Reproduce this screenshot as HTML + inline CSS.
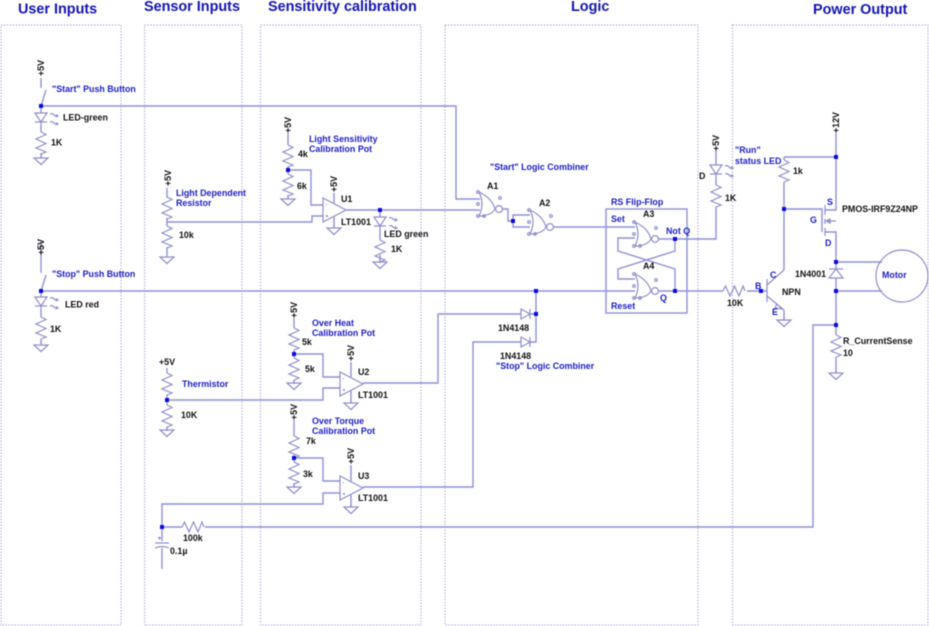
<!DOCTYPE html>
<html><head><meta charset="utf-8"><style>
html,body{margin:0;padding:0;background:#fff;width:929px;height:626px;overflow:hidden}
svg{display:block;filter:blur(.45px)}
text{font-family:"Liberation Sans",sans-serif;font-weight:bold;font-size:8.9px;fill:#111}
.b{fill:#1c1cc4}
.h{font-size:14.4px;fill:#1414b4}
.w{fill:none;stroke:#9090d8;stroke-width:1.4}
.c{fill:none;stroke:#8e8ecc;stroke-width:1.2}
.p{fill:none;stroke:#a0a0d8;stroke-width:1;stroke-dasharray:1.4 1.6}
.n{fill:#0808e0}
</style></head><body>
<svg width="929" height="626" viewBox="0 0 929 626" xmlns="http://www.w3.org/2000/svg">
<defs>
<path id="r" class="c" d="M0 0L5 2.500L-5 7L5 11.500L-5 16L5 20L0 22"/>
<path id="g" class="c" d="M0 -3V0M-7 0H7L0 6.500Z"/>
<g id="led" class="c"><path d="M-6 0H6L0 9ZM-6 9H6M0 9V12"/><path d="M9 1q2.500 -1 4 1t4 1M15 1.500l2 1.500l-2 1M9 9q2.500 -1 4 1t4 1M15 9.500l2 1.500l-2 1" /></g>
<g id="op" class="c"><path d="M0 0L23 12L0 24Z"/><path d="M3 6.500h1M3 18h2M4 17v2" /></g>
<g id="gate" class="c"><path d="M0 0Q6 12 0 24Q12 24 16 17Q13 6 0 0Z"/><circle cx="20" cy="17" r="3.400"/><circle cx="-1" cy="0" r="1.300"/><circle cx="-1" cy="12" r="1.300"/><circle cx="-1" cy="24" r="1.300"/><circle cx="5" cy="24" r="1.300"/><circle cx="21" cy="6" r="1.300"/></g>
<path id="dr" class="c" d="M0 -5V5L9 0ZM9 -5V5"/>
</defs>

<!-- panels -->
<rect class="p" x="1" y="25" width="120" height="600"/>
<rect class="p" x="144.500" y="25" width="97.500" height="600"/>
<rect class="p" x="260.500" y="25" width="160.500" height="600"/>
<rect class="p" x="445" y="25" width="253" height="600"/>
<rect class="p" x="732.500" y="25" width="195.500" height="600"/>

<!-- headers -->
<text class="h" x="18" y="13.500">User Inputs</text>
<text class="h" x="144" y="11">Sensor Inputs</text>
<text class="h" x="268" y="11">Sensitivity calibration</text>
<text class="h" x="571" y="11">Logic</text>
<text class="h" x="813" y="14">Power Output</text>

<!-- wires -->
<path class="w" d="M41 106H456V199H480"/>
<path class="w" d="M41 291H635M675 291H723M747 291H767"/>
<path class="w" d="M536 291V342H530M536 314H530"/>
<path class="w" d="M41 78V88M46 90L41 106M41 106V113M41 125V132M41 153V158"/>
<path class="w" d="M41 242V273M46 275L41 291M41 291V297M41 309V317M41 339V344"/>
<path class="w" d="M167 188V198M167 218V226M167 247V254M167 222H312V216H323"/>
<path class="w" d="M167 368V373M167 395V405M167 427V431M167 400H323V388H340"/>
<path class="w" d="M288 133V145M288 166V174M288 195V199M288 170H311V205H323"/>
<path class="w" d="M346 210H480M380 210V217M380 229V240M380 255V263M334 193V203M334 216V228"/>
<path class="w" d="M294 318V328M294 350V358M294 380V384M294 354H323V377H340"/>
<path class="w" d="M363 383H438V314H521M351 362V377M351 390V403"/>
<path class="w" d="M294 420V436M294 455V462M294 483V488M294 458H323V481H340"/>
<path class="w" d="M363 487H473V342H521M351 465V481M351 494V507"/>
<path class="w" d="M162 527V504H323V493H340M162 527H182M205 527H813V325H836M162 527V541M162 548V569"/>
<path class="w" d="M503 209H508V221H513M530 215H513V227H530M554 227H635M658 239H716V207M716 185V177M716 150V165"/>
<path class="w" d="M635 238H618V251L675 269V291M675 239V251L618 269V279H635M658 291H675"/>
<rect class="w" x="606" y="209" width="81" height="104"/>
<path class="w" d="M784 157H836M784 157V160M784 182V270M784 209H822V232M836 133V210H825M825 232H836V269M836 278V335M836 357V373M836 262H882M836 291H882M784 310V321"/>
<path class="c" d="M767 279V302M767 285L784 270M767 296L784 310M777 304l5 5l-7 -1ZM825 205V215M825 219V224M825 228V236M836 221H826l4 -2v4l-4 -2"/>

<!-- components -->
<use href="#led" x="41" y="113"/><use href="#r" x="41" y="132"/><use href="#g" x="41" y="158"/>
<use href="#led" x="41" y="297"/><use href="#r" x="41" y="317"/><use href="#g" x="41" y="345"/>
<use href="#r" x="167" y="197"/><use href="#r" x="167" y="226"/><use href="#g" x="167" y="257"/>
<use href="#r" x="167" y="373"/><use href="#r" x="167" y="405"/><use href="#g" x="167" y="430"/>
<use href="#r" x="288" y="145"/><use href="#r" x="288" y="174"/><use href="#g" x="288" y="199"/>
<use href="#op" x="323" y="198"/><use href="#g" x="334" y="228"/>
<use href="#led" x="380" y="217"/><use href="#r" x="380" y="240"/><use href="#g" x="380" y="262"/>
<use href="#r" x="294" y="328"/><use href="#r" x="294" y="358"/><use href="#g" x="294" y="383"/>
<use href="#op" x="340" y="372"/><use href="#g" x="351" y="403"/>
<use href="#r" x="294" y="436"/><use href="#r" x="294" y="462"/><use href="#g" x="294" y="487"/>
<use href="#op" x="340" y="476"/><use href="#g" x="351" y="507"/>
<use href="#dr" x="521" y="314"/><use href="#dr" x="521" y="342"/>
<use href="#gate" x="479" y="192"/><use href="#gate" x="530" y="210"/><use href="#gate" x="635" y="222"/><use href="#gate" x="635" y="274"/>
<use href="#led" x="716" y="165"/><use href="#r" x="716" y="185"/>
<g transform="translate(723 291) rotate(-90)"><use href="#r"/></g>
<g transform="translate(182 527) rotate(-90)"><use href="#r"/></g>
<use href="#r" x="784" y="160"/><use href="#g" x="784" y="320"/>
<use href="#r" x="836" y="335"/><use href="#g" x="836" y="373"/>
<path class="c" d="M829 269H843M836 269L829 278H843Z"/>
<circle class="c" cx="902" cy="276" r="26"/>
<path class="c" d="M155 543H169M155 548q7 -3 14 0M158 538h3M159.500 536.500v3"/>

<!-- nodes -->
<g class="n">
<rect x="39" y="104" width="4" height="4"/><rect x="39" y="289" width="4" height="4"/>
<rect x="165" y="398" width="4" height="4"/><rect x="286" y="168" width="4" height="4"/>
<rect x="378" y="208" width="4" height="4"/><rect x="292" y="352" width="4" height="4"/>
<rect x="292" y="456" width="4" height="4"/><rect x="160" y="525" width="4" height="4"/>
<rect x="511" y="219" width="4" height="4"/><rect x="534" y="289" width="4" height="4"/>
<rect x="534" y="312" width="4" height="4"/><rect x="673" y="237" width="4" height="4"/>
<rect x="673" y="289" width="4" height="4"/><rect x="759" y="289" width="4" height="4"/>
<rect x="782" y="207" width="4" height="4"/><rect x="834" y="155" width="4" height="4"/>
<rect x="834" y="260" width="4" height="4"/><rect x="834" y="289" width="4" height="4"/>
<rect x="834" y="323" width="4" height="4"/>
</g>

<!-- rotated supplies -->
<text transform="translate(44 76) rotate(-90)">+5V</text>
<text transform="translate(44 255) rotate(-90)">+5V</text>
<text transform="translate(171 186) rotate(-90)">+5V</text>
<text transform="translate(291 133) rotate(-90)">+5V</text>
<text transform="translate(337 192) rotate(-90)">+5V</text>
<text transform="translate(297 318) rotate(-90)">+5V</text>
<text transform="translate(354 361) rotate(-90)">+5V</text>
<text transform="translate(297 420) rotate(-90)">+5V</text>
<text transform="translate(354 464) rotate(-90)">+5V</text>
<text transform="translate(719 151) rotate(-90)">+5V</text>
<text transform="translate(839 133) rotate(-90)">+12V</text>

<!-- labels -->
<text class="b" x="52" y="92">"Start" Push Button</text>
<text x="63" y="120.500">LED-green</text>
<text x="51" y="145.500">1K</text>
<text class="b" x="176" y="196">Light Dependent</text>
<text class="b" x="176" y="206">Resistor</text>
<text x="179" y="238">10k</text>
<text class="b" x="52" y="277">"Stop" Push Button</text>
<text x="65" y="307.500">LED red</text>
<text x="50" y="332">1K</text>
<text x="159" y="365">+5V</text>
<text class="b" x="182" y="387">Thermistor</text>
<text x="181" y="418">10K</text>
<text class="b" x="309" y="142">Light Sensitivity</text>
<text class="b" x="309" y="152">Calibration Pot</text>
<text x="298" y="157">4k</text>
<text x="297" y="189">6k</text>
<text x="341" y="202">U1</text>
<text x="341" y="225">LT1001</text>
<text x="384" y="237">LED green</text>
<text x="391" y="252">1K</text>
<text class="b" x="312" y="326">Over Heat</text>
<text class="b" x="312" y="336">Calibration Pot</text>
<text x="302" y="345">5k</text>
<text x="305" y="372">5k</text>
<text x="358" y="375">U2</text>
<text x="358" y="398">LT1001</text>
<text class="b" x="312" y="424">Over Torque</text>
<text class="b" x="312" y="434">Calibration Pot</text>
<text x="306" y="444">7k</text>
<text x="303" y="477">3k</text>
<text x="358" y="479">U3</text>
<text x="358" y="501">LT1001</text>
<text x="498" y="331">1N4148</text>
<text x="500" y="359">1N4148</text>
<text class="b" x="496" y="369">"Stop" Logic Combiner</text>
<text class="b" x="490" y="170">"Start" Logic Combiner</text>
<text x="487" y="189">A1</text>
<text x="539" y="206">A2</text>
<text class="b" x="611" y="205">RS Flip-Flop</text>
<text class="b" x="611" y="222">Set</text>
<text x="643" y="217">A3</text>
<text class="b" x="666" y="234">Not Q</text>
<text x="643" y="269">A4</text>
<text class="b" x="660" y="301">Q</text>
<text class="b" x="611" y="309">Reset</text>
<text x="699" y="179">D</text>
<text x="725" y="201">1K</text>
<text class="b" x="735" y="153">"Run"</text>
<text class="b" x="735" y="164">status LED</text>
<text x="793" y="174">1k</text>
<text class="b" x="827" y="205">S</text>
<text x="842" y="212">PMOS-IRF9Z24NP</text>
<text class="b" x="810" y="223">G</text>
<text class="b" x="825" y="246">D</text>
<text class="b" x="770" y="278">C</text>
<text x="795" y="277">1N4001</text>
<text class="b" x="882" y="278">Motor</text>
<text class="b" x="755" y="289">B</text>
<text x="782" y="295">NPN</text>
<text x="727" y="306">10K</text>
<text class="b" x="772" y="315">E</text>
<text x="843" y="344">R_CurrentSense</text>
<text x="843" y="356">10</text>
<text x="183" y="541">100k</text>
<text x="170" y="554">0.1µ</text>
</svg>
</body></html>
